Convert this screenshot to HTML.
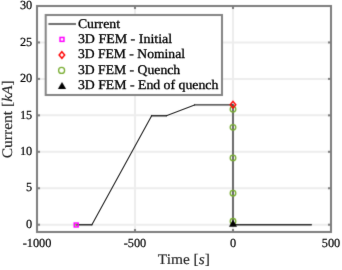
<!DOCTYPE html>
<html><head><meta charset="utf-8"><style>
html,body{margin:0;padding:0;background:#fff;width:342px;height:270px;overflow:hidden}
svg{display:block}
text{font-family:"Liberation Serif",serif;fill:#000;stroke:#000;stroke-width:0.3px;text-rendering:geometricPrecision}
text.tk{fill:#000;stroke:#000;stroke-width:0.2px}
text.lb{fill:#262626;stroke:#262626;stroke-width:0.15px}
</style></head><body>
<svg width="342" height="270" viewBox="0 0 342 270">
<defs><filter id="bl" x="0" y="0" width="342" height="270" filterUnits="userSpaceOnUse" color-interpolation-filters="sRGB"><feConvolveMatrix order="3" kernelMatrix="0.0144 0.0912 0.0144 0.0912 0.5776 0.0912 0.0144 0.0912 0.0144" divisor="1" edgeMode="duplicate" preserveAlpha="true"/></filter><filter id="bt" x="0" y="0" width="342" height="270" filterUnits="userSpaceOnUse" color-interpolation-filters="sRGB"><feConvolveMatrix order="3" kernelMatrix="0.0036 0.0528 0.0036 0.0528 0.7744 0.0528 0.0036 0.0528 0.0036" divisor="1" edgeMode="none"/></filter></defs>
<g filter="url(#bl)">
<rect width="342" height="270" fill="#fff"/>
<line x1="135.00" y1="6.00" x2="135.00" y2="232.00" stroke="#ededed" stroke-width="2.0"/>
<line x1="233.00" y1="6.00" x2="233.00" y2="232.00" stroke="#ededed" stroke-width="2.0"/>
<line x1="37.00" y1="224.71" x2="331.00" y2="224.71" stroke="#ededed" stroke-width="2.0"/>
<line x1="37.00" y1="188.26" x2="331.00" y2="188.26" stroke="#ededed" stroke-width="2.0"/>
<line x1="37.00" y1="151.81" x2="331.00" y2="151.81" stroke="#ededed" stroke-width="2.0"/>
<line x1="37.00" y1="115.35" x2="331.00" y2="115.35" stroke="#ededed" stroke-width="2.0"/>
<line x1="37.00" y1="78.90" x2="331.00" y2="78.90" stroke="#ededed" stroke-width="2.0"/>
<line x1="37.00" y1="42.45" x2="331.00" y2="42.45" stroke="#ededed" stroke-width="2.0"/>
<line x1="76.20" y1="224.71" x2="91.88" y2="224.71" stroke="#2a2a2a" stroke-linecap="round" stroke-width="1.35"/>
<line x1="151.66" y1="115.72" x2="166.36" y2="115.72" stroke="#2a2a2a" stroke-linecap="round" stroke-width="1.35"/>
<line x1="194.58" y1="104.93" x2="233.00" y2="104.93" stroke="#2a2a2a" stroke-linecap="round" stroke-width="1.35"/>
<line x1="233.00" y1="104.93" x2="233.00" y2="224.71" stroke="#2a2a2a" stroke-linecap="round" stroke-width="1.35"/>
<line x1="233.00" y1="224.71" x2="311.40" y2="224.71" stroke="#2a2a2a" stroke-linecap="round" stroke-width="1.35"/>
<rect x="74.25" y="223.05" width="3.9" height="3.9" fill="none" stroke="#ff00ff" stroke-width="1.5"/>
<circle cx="76.20" cy="225.0" r="0.9" fill="#77ac30"/>
<circle cx="233.00" cy="109.30" r="2.8" fill="none" stroke="#77ac30" stroke-width="1.3"/>
<circle cx="233.00" cy="127.35" r="2.8" fill="none" stroke="#77ac30" stroke-width="1.3"/>
<circle cx="233.00" cy="157.90" r="2.8" fill="none" stroke="#77ac30" stroke-width="1.3"/>
<circle cx="233.00" cy="193.20" r="2.8" fill="none" stroke="#77ac30" stroke-width="1.3"/>
<circle cx="233.00" cy="221.30" r="2.8" fill="none" stroke="#77ac30" stroke-width="1.3"/>
<polygon points="233.00,101.40 235.80,104.70 233.00,108.00 230.20,104.70" fill="none" stroke="#ff0000" stroke-width="1.4"/>
<polygon points="233.00,219.40 237.00,226.80 229.00,226.80" fill="#000"/>
<rect x="37.00" y="6.00" width="294.00" height="226.00" fill="none" stroke="#7c7c7c" stroke-width="2.0"/>
<line x1="37.00" y1="232.00" x2="37.00" y2="229.00" stroke="#7c7c7c" stroke-width="2.0"/>
<line x1="37.00" y1="6.00" x2="37.00" y2="9.00" stroke="#7c7c7c" stroke-width="2.0"/>
<line x1="135.00" y1="232.00" x2="135.00" y2="229.00" stroke="#7c7c7c" stroke-width="2.0"/>
<line x1="135.00" y1="6.00" x2="135.00" y2="9.00" stroke="#7c7c7c" stroke-width="2.0"/>
<line x1="233.00" y1="232.00" x2="233.00" y2="229.00" stroke="#7c7c7c" stroke-width="2.0"/>
<line x1="233.00" y1="6.00" x2="233.00" y2="9.00" stroke="#7c7c7c" stroke-width="2.0"/>
<line x1="331.00" y1="232.00" x2="331.00" y2="229.00" stroke="#7c7c7c" stroke-width="2.0"/>
<line x1="331.00" y1="6.00" x2="331.00" y2="9.00" stroke="#7c7c7c" stroke-width="2.0"/>
<line x1="37.00" y1="224.71" x2="40.00" y2="224.71" stroke="#7c7c7c" stroke-width="2.0"/>
<line x1="331.00" y1="224.71" x2="328.00" y2="224.71" stroke="#7c7c7c" stroke-width="2.0"/>
<line x1="37.00" y1="188.26" x2="40.00" y2="188.26" stroke="#7c7c7c" stroke-width="2.0"/>
<line x1="331.00" y1="188.26" x2="328.00" y2="188.26" stroke="#7c7c7c" stroke-width="2.0"/>
<line x1="37.00" y1="151.81" x2="40.00" y2="151.81" stroke="#7c7c7c" stroke-width="2.0"/>
<line x1="331.00" y1="151.81" x2="328.00" y2="151.81" stroke="#7c7c7c" stroke-width="2.0"/>
<line x1="37.00" y1="115.35" x2="40.00" y2="115.35" stroke="#7c7c7c" stroke-width="2.0"/>
<line x1="331.00" y1="115.35" x2="328.00" y2="115.35" stroke="#7c7c7c" stroke-width="2.0"/>
<line x1="37.00" y1="78.90" x2="40.00" y2="78.90" stroke="#7c7c7c" stroke-width="2.0"/>
<line x1="331.00" y1="78.90" x2="328.00" y2="78.90" stroke="#7c7c7c" stroke-width="2.0"/>
<line x1="37.00" y1="42.45" x2="40.00" y2="42.45" stroke="#7c7c7c" stroke-width="2.0"/>
<line x1="331.00" y1="42.45" x2="328.00" y2="42.45" stroke="#7c7c7c" stroke-width="2.0"/>
<line x1="37.00" y1="6.00" x2="40.00" y2="6.00" stroke="#7c7c7c" stroke-width="2.0"/>
<line x1="331.00" y1="6.00" x2="328.00" y2="6.00" stroke="#7c7c7c" stroke-width="2.0"/>
<rect x="45.7" y="15" width="176.3" height="80" fill="#fff" stroke="#838383" stroke-width="2.0"/>
<line x1="48.4" y1="24.00" x2="76" y2="24.00" stroke="#2a2a2a" stroke-width="1.35"/>
<rect x="60.05" y="37.45" width="3.9" height="3.9" fill="none" stroke="#ff00ff" stroke-width="1.5"/>
<polygon points="61.90,51.70 64.70,55.00 61.90,58.30 59.10,55.00" fill="none" stroke="#ff0000" stroke-width="1.4"/>
<circle cx="61.60" cy="70.40" r="3.0" fill="none" stroke="#77ac30" stroke-width="1.3"/>
<polygon points="62.00,81.90 66.10,88.90 57.90,88.90" fill="#000"/>
</g>
<g filter="url(#bt)">
<line x1="91.88" y1="224.71" x2="151.66" y2="115.72" stroke="#2a2a2a" stroke-linecap="round" stroke-width="1.15"/>
<line x1="166.36" y1="115.72" x2="194.58" y2="104.93" stroke="#2a2a2a" stroke-linecap="round" stroke-width="1.15"/>
<text class="tk" x="37.00" y="247.2" font-size="12.3" text-anchor="middle">-1000</text>
<text class="tk" x="135.00" y="247.2" font-size="12.3" text-anchor="middle">-500</text>
<text class="tk" x="233.00" y="247.2" font-size="12.3" text-anchor="middle">0</text>
<text class="tk" x="331.00" y="247.2" font-size="12.3" text-anchor="middle">500</text>
<text class="tk" x="32.2" y="227.91" font-size="12.3" text-anchor="end">0</text>
<text class="tk" x="32.2" y="191.46" font-size="12.3" text-anchor="end">5</text>
<text class="tk" x="32.2" y="155.01" font-size="12.3" text-anchor="end">10</text>
<text class="tk" x="32.2" y="118.55" font-size="12.3" text-anchor="end">15</text>
<text class="tk" x="32.2" y="82.10" font-size="12.3" text-anchor="end">20</text>
<text class="tk" x="32.2" y="45.65" font-size="12.3" text-anchor="end">25</text>
<text class="tk" x="32.2" y="9.20" font-size="12.3" text-anchor="end">30</text>
<text class="lb" x="183.8" y="264.4" font-size="14.6" text-anchor="middle" textLength="52" lengthAdjust="spacingAndGlyphs">Time [<tspan font-style="italic">s</tspan>]</text>
<text class="lb" transform="translate(12.2,119.3) rotate(-90)" x="0" y="0" font-size="14.6" text-anchor="middle" textLength="78" lengthAdjust="spacingAndGlyphs">Current [<tspan font-style="italic">kA</tspan>]</text>
<text x="77.9" y="27.6" font-size="13.2" textLength="42.1" lengthAdjust="spacingAndGlyphs">Current</text>
<text x="77.9" y="43.0" font-size="13.2" textLength="94.2" lengthAdjust="spacingAndGlyphs">3D FEM - Initial</text>
<text x="77.9" y="58.4" font-size="13.2" textLength="107.1" lengthAdjust="spacingAndGlyphs">3D FEM - Nominal</text>
<text x="77.9" y="73.8" font-size="13.2" textLength="102.3" lengthAdjust="spacingAndGlyphs">3D FEM - Quench</text>
<text x="77.9" y="89.2" font-size="13.2" textLength="140.4" lengthAdjust="spacingAndGlyphs">3D FEM - End of quench</text>
</g>
</svg>
</body></html>
